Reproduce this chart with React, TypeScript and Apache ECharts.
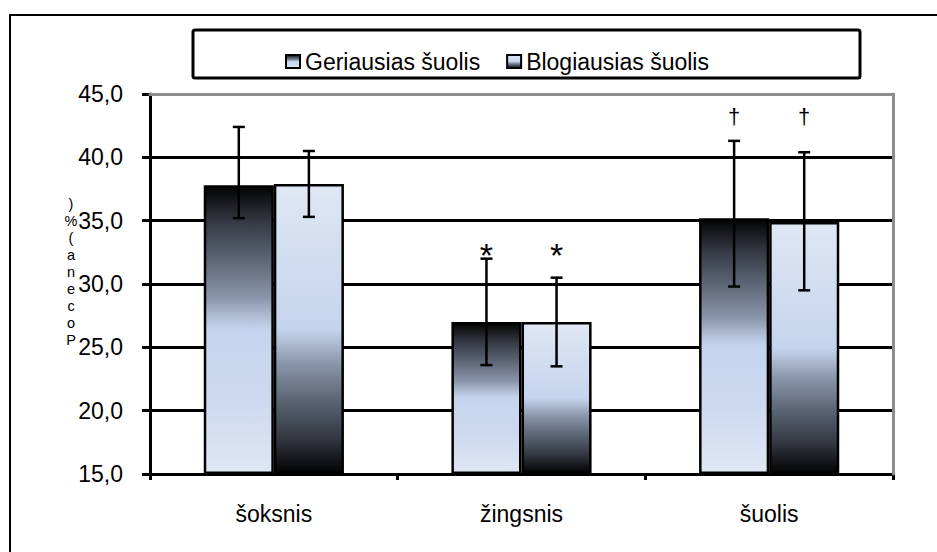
import React, { useEffect, useRef } from 'react';
import * as echarts from 'echarts';

const categories = ['šoksnis', 'žingsnis', 'šuolis'];
const seriesNames = ['Geriausias šuolis', 'Blogiausias šuolis'];
const bestValues = [37.8, 27.0, 35.2];
const worstValues = [37.9, 27.0, 34.9];
const bestLow = [35.2, 23.6, 29.8];
const bestHigh = [42.4, 32.0, 41.3];
const worstLow = [35.3, 23.5, 29.5];
const worstHigh = [40.5, 30.5, 40.4];
const markerSymbols = ['', '*', '†'];
const markerLevels = [0, 32.9, 43.2];
const yMin = 15;
const yMax = 45;
const yStep = 5;
const yTitleChars = [')', '%', '(', 'a', 'n', 'e', 'c', 'o', 'P'];

const FONT = '"Liberation Sans", Arial, sans-serif';
const BAR_FRAC = 0.283;

const darkTop = new echarts.graphic.LinearGradient(0, 0, 0, 1, [
  { offset: 0, color: '#030303' },
  { offset: 0.13, color: '#363b45' },
  { offset: 0.25, color: '#5b6474' },
  { offset: 0.39, color: '#8a96aa' },
  { offset: 0.46, color: '#b3c0d8' },
  { offset: 0.5, color: '#c5d4ee' },
  { offset: 0.75, color: '#cdd9ef' },
  { offset: 1, color: '#e0e7f4' },
]);
const lightTop = new echarts.graphic.LinearGradient(0, 0, 0, 1, [
  { offset: 0, color: '#e0e7f4' },
  { offset: 0.25, color: '#d2ddf0' },
  { offset: 0.5, color: '#c5d4ee' },
  { offset: 0.54, color: '#b3c0d8' },
  { offset: 0.62, color: '#8a96aa' },
  { offset: 0.75, color: '#5b6474' },
  { offset: 0.87, color: '#363b45' },
  { offset: 1, color: '#030303' },
]);

function makeErrorRender(side: number) {
  return (params: any, api: any) => {
    const i = api.value(0);
    const lo = api.coord([i, api.value(1)]);
    const hi = api.coord([i, api.value(2)]);
    const band = api.size([1, 0])[0];
    const x = lo[0] + (side * band * BAR_FRAC) / 2;
    const cap = 6;
    const st = { stroke: '#000', lineWidth: 2.5 };
    const children: any[] = [
      { type: 'line', shape: { x1: x, y1: hi[1], x2: x, y2: lo[1] }, style: st },
      { type: 'line', shape: { x1: x - cap, y1: hi[1], x2: x + cap, y2: hi[1] }, style: st },
      { type: 'line', shape: { x1: x - cap, y1: lo[1], x2: x + cap, y2: lo[1] }, style: st },
    ];
    const sym = markerSymbols[i];
    if (sym) {
      const m = api.coord([i, markerLevels[i]]);
      const isStar = sym === '*';
      children.push({
        type: 'text',
        x,
        y: m[1] + (isStar ? 8 : 0),
        style: {
          text: sym,
          fontSize: isStar ? 34 : 22,
          fontFamily: FONT,
          fill: '#000',
          align: 'center',
          verticalAlign: 'middle',
        },
      });
    }
    return { type: 'group', children };
  };
}

export default function App() {
  const ref = useRef<HTMLDivElement>(null);
  useEffect(() => {
    if (!ref.current) return;
    const chart = echarts.init(ref.current, null, { renderer: 'svg' });
    chart.setOption({
      animation: false,
      backgroundColor: '#fff',
      textStyle: { fontFamily: FONT, color: '#000' },
      grid: { left: 150, right: 44, top: 94, bottom: 78, containLabel: false },
      legend: {
        data: seriesNames.map((n) => ({ name: n, icon: 'rect' })),
        left: 280,
        top: 45,
        itemWidth: 14,
        itemHeight: 13,
        itemGap: 26,
        textStyle: { fontSize: 23, fontFamily: FONT, color: '#000' },
      },
      graphic: [
        {
          type: 'rect',
          shape: { x: 10, y: 15, width: 940, height: 560 },
          style: { fill: 'none', stroke: '#000', lineWidth: 2 },
          z: -1,
        },
        {
          type: 'rect',
          shape: { x: 193, y: 30, width: 667, height: 48, r: 2 },
          style: { fill: 'none', stroke: '#000', lineWidth: 3 },
          z: -1,
        },
        {
          type: 'text',
          x: 71,
          y: 195,
          style: {
            text: yTitleChars.join('\n'),
            fontSize: 14.5,
            lineHeight: 17,
            fontFamily: FONT,
            fill: '#000',
            align: 'center',
          },
        },
      ],
      xAxis: [
        {
          type: 'category',
          data: categories,
          boundaryGap: true,
          axisLine: { lineStyle: { color: '#000', width: 3 } },
          axisTick: { show: true, length: 6, lineStyle: { color: '#000', width: 3 } },
          axisLabel: { fontSize: 23, color: '#000', margin: 28, fontFamily: FONT },
          splitLine: { show: false },
        },
        {
          type: 'category',
          data: categories,
          position: 'top',
          z: 5,
          axisLine: { lineStyle: { color: '#8c8c8c', width: 3 } },
          axisTick: { show: false },
          axisLabel: { show: false },
        },
      ],
      yAxis: [
        {
          type: 'value',
          min: yMin,
          max: yMax,
          interval: yStep,
          startValue: yMin,
          axisLine: { show: true, lineStyle: { color: '#000', width: 3 } },
          axisTick: { show: true, length: 8, lineStyle: { color: '#000', width: 3 } },
          axisLabel: {
            fontSize: 23,
            color: '#000',
            margin: 27,
            fontFamily: FONT,
            formatter: (v: number) => v.toFixed(1).replace('.', ','),
          },
          splitLine: { show: true, lineStyle: { color: '#000', width: 3 } },
        },
        {
          type: 'value',
          min: yMin,
          max: yMax,
          interval: yStep,
          position: 'right',
          z: 5,
          axisLine: { show: true, lineStyle: { color: '#8c8c8c', width: 3 } },
          axisTick: { show: false },
          axisLabel: { show: false },
          splitLine: { show: false },
        },
      ],
      series: [
        {
          name: seriesNames[0],
          type: 'bar',
          data: bestValues,
          barWidth: (BAR_FRAC * 100).toFixed(1) + '%',
          barGap: '0%',
          itemStyle: { color: darkTop, borderColor: '#000', borderWidth: 2.5 },
          z: 3,
        },
        {
          name: seriesNames[1],
          type: 'bar',
          data: worstValues,
          barWidth: (BAR_FRAC * 100).toFixed(1) + '%',
          barGap: '0%',
          itemStyle: { color: lightTop, borderColor: '#000', borderWidth: 2.5 },
          z: 3,
        },
        {
          type: 'custom',
          renderItem: makeErrorRender(-1),
          data: categories.map((c, i) => [i, bestLow[i], bestHigh[i]]),
          encode: { x: 0, y: [1, 2] },
          z: 6,
          clip: false,
        },
        {
          type: 'custom',
          renderItem: makeErrorRender(1),
          data: categories.map((c, i) => [i, worstLow[i], worstHigh[i]]),
          encode: { x: 0, y: [1, 2] },
          z: 6,
          clip: false,
        },
      ],
    });
    return () => chart.dispose();
  }, []);
  return (
    <div
      ref={ref}
      style={{ position: 'fixed', left: 0, top: 0, width: 937, height: 552 }}
    />
  );
}
